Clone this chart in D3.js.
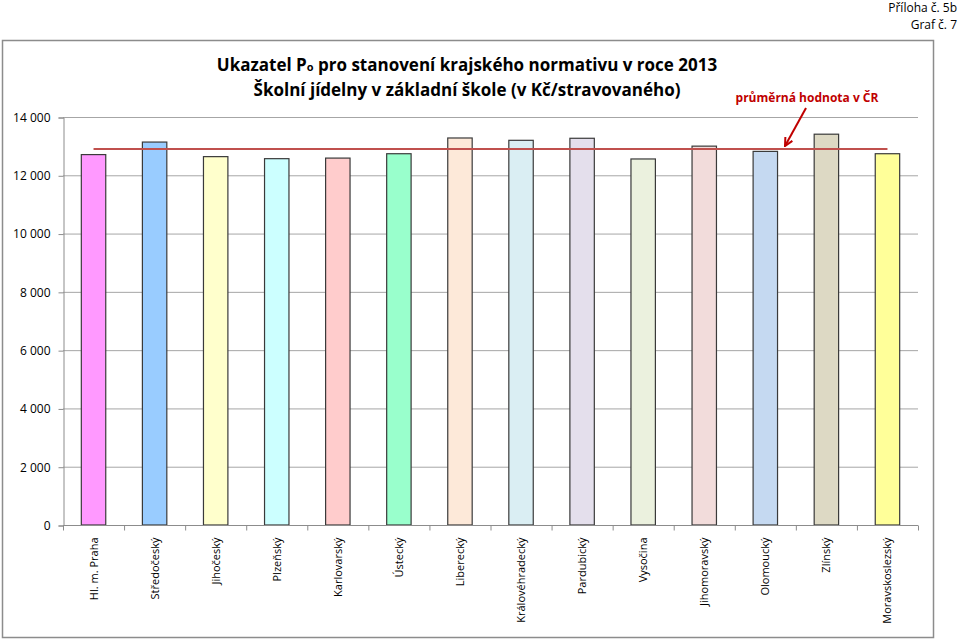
<!DOCTYPE html>
<html>
<head>
<meta charset="utf-8">
<script src="https://cdn.jsdelivr.net/npm/d3@7"></script>
<style>
  body { margin: 0; background: #fff; }
  svg { font-family: "Open Sans", "Noto Sans", sans-serif; }
</style>
</head>
<body>
<div id="chart"></div>
<script>
// kraje a hodnoty ukazatele Po (Kč/stravovaného)
const regions = ["Hl. m. Praha", "Středočeský", "Jihočeský", "Plzeňský", "Karlovarský", "Ústecký",
    "Liberecký", "Královéhradecký", "Pardubický", "Vysočina", "Jihomoravský", "Olomoucký",
    "Zlínský", "Moravskoslezský"];
const values = [12710, 13140, 12640, 12570, 12590, 12740, 13280, 13200, 13270, 12560, 13000, 12820, 13410, 12740];
const barColors = ["#FF99FF", "#99CCFF", "#FFFFCC", "#CCFFFF", "#FFCCCC", "#99FFCC", "#FDE9D9",
    "#DAEEF3", "#E4DFEC", "#EBF1DE", "#F2DCDB", "#C5D9F1", "#DDD9C4", "#FFFF99"];
const average = 12900;
const yTicks = [0, 2000, 4000, 6000, 8000, 10000, 12000, 14000];

const width = 960, height = 642;
const svg = d3.select("#chart").append("svg")
    .attr("width", width)
    .attr("height", height);

// ramecek grafu
svg.append("rect")
    .attr("x", 2.5).attr("y", 40.5)
    .attr("width", 931).attr("height", 597)
    .attr("fill", "#fff")
    .attr("stroke", "#8c8c8c")
    .attr("stroke-width", 1.5);

// priloha
svg.append("text").attr("x", 957).attr("y", 12).attr("text-anchor", "end")
    .style("font-size", "12px").text("Příloha č. 5b");
svg.append("text").attr("x", 957).attr("y", 29).attr("text-anchor", "end")
    .style("font-size", "12px").text("Graf č. 7");

const x = d3.scaleBand().domain(regions).range([63, 918]).paddingInner(0.6).paddingOuter(0.3);
const xb = d3.scaleBand().domain(regions).range([63, 918]);
const y = d3.scaleLinear().domain([0, 14000]).range([525, 117]);

// mrizka
svg.append("g").selectAll("line")
    .data(yTicks.filter(d => d > 0))
    .enter().append("line")
    .attr("x1", 63).attr("x2", 918)
    .attr("y1", d => y(d) + 0.5).attr("y2", d => y(d) + 0.5)
    .attr("stroke", "#a6a6a6");

// osa y
const yAxis = svg.append("g")
    .attr("transform", "translate(63.5,0.5)")
    .call(d3.axisLeft(y).tickValues(yTicks).tickSize(5).tickPadding(8)
        .tickFormat(d => d3.format(",")(d).replace(",", "\u00a0")));
yAxis.select(".domain").attr("stroke", "#8c8c8c");
yAxis.selectAll(".tick line").attr("stroke", "#8c8c8c");
yAxis.selectAll("text").style("font-size", "12px").attr("fill", "#000")
    .style("font-family", "'Open Sans', sans-serif");

// sloupce
svg.append("g").selectAll("rect")
    .data(regions)
    .enter().append("rect")
    .attr("x", d => x(d))
    .attr("y", (d, i) => y(values[i]))
    .attr("width", x.bandwidth())
    .attr("height", (d, i) => y(0) - y(values[i]))
    .attr("fill", (d, i) => barColors[i])
    .attr("stroke", "#3a3a3a")
    .attr("stroke-width", 1.2);

// osa x
const xAxis = svg.append("g")
    .attr("transform", "translate(0," + (y(0) + 0.5) + ")");
xAxis.append("line").attr("x1", 63).attr("x2", 918).attr("stroke", "#8c8c8c");
xAxis.selectAll(".tk")
    .data(regions.map(r => xb(r)).concat([918]))
    .enter().append("line")
    .attr("x1", d => d + 0.5).attr("x2", d => d + 0.5)
    .attr("y1", 0).attr("y2", 5)
    .attr("stroke", "#8c8c8c");
xAxis.selectAll("text")
    .data(regions)
    .enter().append("text")
    .attr("transform", d => `translate(${x(d) + x.bandwidth() / 2 + 4},12) rotate(-90)`)
    .attr("text-anchor", "end")
    .style("font-size", "11px")
    .text(d => d);

// prumer CR
svg.append("line")
    .attr("x1", x(regions[0]) + x.bandwidth() / 2)
    .attr("x2", x(regions[regions.length - 1]) + x.bandwidth() / 2)
    .attr("y1", y(average)).attr("y2", y(average))
    .attr("stroke", "#C0504D")
    .attr("stroke-width", 2);

svg.append("defs").append("marker")
    .attr("id", "arrow")
    .attr("viewBox", "0 0 10 10")
    .attr("refX", 9).attr("refY", 5)
    .attr("markerWidth", 5).attr("markerHeight", 5)
    .attr("orient", "auto")
    .append("path")
    .attr("d", "M1,1 L9,5 L1,9")
    .attr("fill", "none")
    .attr("stroke", "#C00000")
    .attr("stroke-width", 2);

svg.append("line")
    .attr("x1", 806).attr("y1", 108)
    .attr("x2", 785).attr("y2", 146)
    .attr("stroke", "#C00000")
    .attr("stroke-width", 2)
    .attr("marker-end", "url(#arrow)");

svg.append("text")
    .attr("x", 807).attr("y", 102)
    .attr("text-anchor", "middle")
    .attr("fill", "#C00000")
    .style("font-size", "12px")
    .style("font-weight", "bold")
    .text("průměrná hodnota v ČR");

// nadpis
const title = svg.append("text")
    .attr("x", 467).attr("y", 71)
    .attr("text-anchor", "middle")
    .style("font-size", "17px")
    .style("font-weight", "bold");
title.append("tspan").text("Ukazatel P");
title.append("tspan").style("font-size", "11px").text("o");
title.append("tspan").text(" pro stanovení krajského normativu v roce 2013");
svg.append("text")
    .attr("x", 467).attr("y", 96)
    .attr("text-anchor", "middle")
    .style("font-size", "17px")
    .style("font-weight", "bold")
    .text("Školní jídelny v základní škole (v Kč/stravovaného)");
</script>
</body>
</html>
